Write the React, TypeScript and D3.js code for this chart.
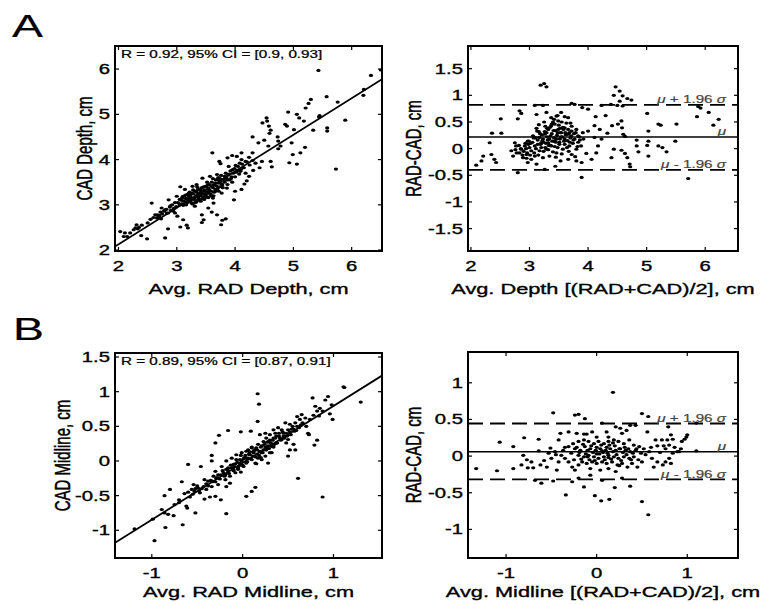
import React from "react";
import * as d3 from "d3";

// the source figure is stretched horizontally, so text gets a scaleX
const FONT = "'Liberation Sans', Arial, Helvetica, sans-serif";
const SX = 1.45;

type Pt = [number, number];

// A: depth, CAD vs RAD
const depthScatter: Pt[] = [
  [5.43,5.97],[6.33,5.86],[6.5,5.98],[6.21,5.55],[6.2,5.42],[5.57,5.39],[5.76,5.27],[5.3,5.33],[5.26,5.24],[5.21,5.14],
  [5.45,4.97],[5.44,4.94],[5.34,4.65],[5.89,4.87],[5.58,4.7],[5.58,4.63],[4.91,5.05],[5.06,5.0],[5.1,4.92],[5.18,4.85],
  [4.54,4.92],[4.55,4.85],[4.47,4.81],[4.58,4.74],[4.61,4.65],[4.86,4.78],[4.89,4.74],[5.01,4.66],[4.59,4.58],[4.73,4.5],
  [4.3,4.5],[4.4,4.37],[4.5,4.43],[4.74,4.41],[4.78,4.3],[4.74,4.24],[4.57,4.3],[4.97,4.37],[5.2,4.27],[5.12,4.15],
  [4.99,4.11],[5.06,3.9],[4.93,3.93],[4.61,3.96],[4.63,3.84],[5.73,3.79],[4.42,3.82],[4.31,3.76],[4.46,3.96],[4.3,4.15],
  [4.11,4.15],[4.03,4.07],[3.95,4.09],[3.87,4.04],[3.73,3.96],[3.61,4.15],[3.75,3.91],[3.89,3.85],[4.18,3.96],[4.24,4.05],
  [4.11,4.0],[4.01,3.87],[4.09,3.74],[4.24,3.63],[4.2,3.53],[4.16,3.46],[4.11,3.34],[3.86,3.37],[3.91,3.56],[3.82,3.63],
  [3.69,3.67],[3.71,3.56],[3.57,3.63],[3.44,3.59],[3.49,3.41],[3.34,3.45],[3.27,3.41],[3.41,3.34],[3.54,3.26],[3.66,3.34],
  [3.77,3.26],[4.0,3.3],[3.98,3.11],[3.62,3.15],[3.63,3.04],[3.36,3.19],[3.23,3.22],[3.14,3.34],[3.06,3.4],[3.0,3.19],
  [3.09,3.15],[3.17,3.07],[3.11,2.99],[3.25,3.04],[3.31,2.97],[3.4,3.11],[2.86,3.11],[2.89,2.98],[2.8,2.89],[2.74,2.93],
  [2.67,2.78],[2.57,3.04],[2.69,2.74],[2.66,2.71],[2.73,2.69],[2.83,2.82],[2.94,2.86],[2.97,2.82],[3.01,2.75],[3.11,2.67],
  [3.43,2.78],[3.46,2.67],[3.54,2.93],[3.6,2.84],[3.69,2.78],[3.78,2.66],[3.84,2.69],[3.76,2.56],[3.17,2.55],[3.19,2.49],
  [3.06,2.51],[2.85,2.47],[2.8,2.27],[3.43,2.61],[2.31,2.56],[2.29,2.49],[2.26,2.45],[2.33,2.47],[2.11,2.38],[2.03,2.41],
  [2.09,2.3],[2.39,2.32],[2.49,2.25],
  [3.02,3.05],[3.05,3.12],[3.08,3.02],[3.1,3.18],[3.12,3.08],[3.15,3.14],[3.16,3.22],[3.18,3.05],[3.2,3.12],[3.21,3.2],
  [3.22,3.28],[3.24,3.1],[3.25,3.16],[3.27,3.02],[3.28,3.24],[3.3,3.12],[3.31,3.3],[3.32,3.18],[3.33,3.06],[3.35,3.22],
  [3.36,3.34],[3.37,3.15],[3.38,3.26],[3.4,3.2],[3.41,3.08],[3.42,3.3],[3.43,3.38],[3.45,3.18],[3.46,3.25],[3.47,3.12],
  [3.48,3.33],[3.5,3.22],[3.51,3.4],[3.52,3.28],[3.54,3.16],[3.55,3.35],[3.56,3.45],[3.58,3.24],[3.59,3.3],[3.6,3.5],
  [3.62,3.38],[3.63,3.2],[3.64,3.44],[3.66,3.3],[3.67,3.55],[3.68,3.42],[3.7,3.36],[3.71,3.6],[3.72,3.48],[3.74,3.4],
  [3.75,3.52],[3.76,3.65],[3.78,3.44],[3.8,3.56],[3.82,3.5],[3.84,3.7],[3.85,3.6],[3.87,3.45],[3.88,3.66],[3.9,3.55],
  [3.92,3.75],[3.94,3.62],[3.95,3.5],[3.97,3.7],[3.99,3.8],[4.0,3.62],[4.02,3.72],[4.05,3.85],[4.07,3.68],[4.1,3.78],
  [4.12,3.9],[4.15,3.82],[4.18,3.7],[4.2,3.95],[4.25,3.88],[4.3,3.98],[4.35,3.92],
  [2.75,2.8],[2.78,2.86],[2.82,2.9],[2.85,2.82],[2.88,2.95],[2.9,2.88],[2.92,3.0],[2.95,2.92],[2.97,3.05],[2.99,2.96],
  [2.6,2.72],[2.63,2.78],[2.7,2.76],[2.72,2.84],[2.55,2.68],[2.5,2.6],[2.4,2.55],[2.35,2.5],[2.2,2.38],[2.15,2.3],
  [3.05,3.0],[3.08,3.1],[3.13,3.2],[3.16,3.0],[3.19,3.15],[3.23,3.08],[3.26,3.26],[3.29,3.14],[3.31,3.05],[3.34,3.28],
  [3.36,3.1],[3.39,3.35],[3.41,3.24],[3.44,3.14],[3.46,3.4],[3.49,3.3],[3.51,3.17],[3.53,3.44],[3.56,3.32],[3.58,3.2],
  [3.61,3.42],[3.64,3.28],[3.66,3.48],[3.69,3.35],[3.72,3.3],[3.74,3.58],[3.77,3.46],[3.79,3.38],[3.83,3.62],[3.86,3.55],
  [3.9,3.68],[3.93,3.58],[3.96,3.78],[4.04,3.76],[4.08,3.92],[3.35,3.4],[3.28,3.33],[3.2,3.25],[3.52,3.5],[3.62,3.58],
];

// A: depth, Bland-Altman
const depthBA: Pt[] = [
  [3.19,1.19],[3.25,1.22],[3.29,1.16],[4.47,1.16],[4.54,1.08],[4.44,1.0],[4.59,0.99],[4.67,0.94],[4.74,0.91],[4.54,0.89],
  [4.5,0.81],[4.59,0.8],[4.23,0.81],[4.39,0.83],[3.72,0.85],[3.77,0.83],[3.9,0.77],[4.0,0.74],[3.23,0.81],[3.09,0.81],
  [2.83,0.71],[2.86,0.66],[2.51,0.56],[2.8,0.56],[5.01,0.66],[5.2,0.46],[5.24,0.44],[5.51,0.46],[5.86,0.6],[5.88,0.79],
  [6.06,0.68],[6.14,0.44],[6.23,0.55],[5.92,0.76],[5.49,0.14],[5.2,0.05],[5.27,0.02],[5.34,-0.06],[5.03,0.33],[5.03,0.14],
  [5.01,0.06],[5.03,-0.14],[4.83,0.16],[4.83,0.05],[4.86,-0.06],[5.71,-0.56],[3.89,-0.54],[2.8,-0.45],[2.09,-0.31],[2.21,-0.14],
  [2.35,-0.11],[2.4,-0.2],[2.43,-0.26],[2.32,0.11],[2.36,0.29],[2.18,-0.23],[2.52,0.29],[4.6,0.27],[4.63,0.23],[4.57,0.52],
  [4.51,0.46],[4.58,0.39],[4.41,0.43],[4.44,-0.01],[4.4,-0.17],[4.57,-0.03],[4.63,-0.09],[4.67,-0.17],[4.71,-0.29],[4.72,-0.34],
  [4.3,0.62],[4.13,0.6],[4.11,0.43],[4.2,0.36],[4.33,0.29],[4.23,0.18],[4.11,0.21],[4.17,0.05],[4.14,-0.08],[4.06,-0.2],
  [3.97,-0.09],[3.89,-0.26],[3.8,-0.23],[3.66,-0.2],[3.53,-0.23],[3.44,-0.33],[3.26,-0.39],[3.12,-0.29],[3.03,-0.2],[2.95,-0.11],
  [2.86,-0.01],[2.75,0.11],[2.69,-0.04],[2.72,-0.14],[2.77,0.05],[2.83,-0.08],[2.92,0.05],[2.97,0.14],[3.06,0.24],[3.13,0.33],
  [3.17,0.21],[3.2,0.11],[3.26,0.27],[3.32,0.36],[3.37,0.43],[3.43,0.46],[3.49,0.36],[3.54,0.3],[3.6,0.39],[3.66,0.27],
  [3.72,0.33],[3.77,0.18],[3.83,0.24],[3.91,0.3],[4.0,0.33],[3.37,0.58],[3.46,0.61],[3.54,0.68],[3.66,0.58],[3.29,0.68],
  [3.12,0.64],[3.49,0.52],[3.23,0.18],[3.32,0.11],[3.43,0.14],[3.51,0.08],[3.6,0.18],[3.37,0.05],[3.29,-0.01],[3.17,-0.04],
  [3.09,0.05],[3.03,-0.04],[3.46,-0.08],[3.57,-0.01],[3.68,0.05],[3.8,-0.01],[3.72,-0.11],[3.34,-0.14],[3.23,-0.17],[3.09,-0.14],
  [2.97,-0.26],[2.89,-0.17],
  [3.0,0.02],[3.05,0.12],[3.08,-0.08],[3.1,0.2],[3.14,0.08],[3.15,-0.12],[3.18,0.28],[3.2,0.02],[3.22,0.15],[3.24,-0.05],
  [3.26,0.32],[3.28,0.1],[3.3,0.22],[3.32,-0.02],[3.34,0.18],[3.35,0.4],[3.36,0.06],[3.38,0.28],[3.4,-0.06],[3.42,0.2],
  [3.44,0.34],[3.45,0.12],[3.47,0.25],[3.48,0.02],[3.5,0.44],[3.52,0.18],[3.53,0.3],[3.55,-0.1],[3.56,0.22],[3.58,0.36],
  [3.6,0.08],[3.62,0.26],[3.63,0.48],[3.65,0.15],[3.67,-0.05],[3.68,0.3],[3.7,0.2],[3.72,0.42],[3.74,0.1],[3.76,0.28],
  [3.78,-0.15],[3.8,0.36],[3.83,0.12],[3.85,0.22],[3.88,0.05],[3.92,0.18],[2.9,-0.05],[2.93,0.1],[2.95,-0.18],[2.98,0.08],
  [2.85,0.0],[2.88,-0.12],[2.82,0.06],[2.78,-0.08],[2.76,-0.02],[3.12,0.38],[3.16,0.45],[3.25,0.5],[3.42,0.55],[3.55,0.5],
  [3.6,0.6],[3.48,0.62],[3.3,0.38],[3.38,0.46],
  [3.02,0.1],[3.07,0.2],[3.11,0.0],[3.14,0.16],[3.19,0.08],[3.21,0.26],[3.24,0.12],[3.27,0.02],[3.29,0.3],[3.31,0.16],
  [3.33,0.06],[3.36,0.24],[3.39,0.14],[3.41,0.34],[3.43,0.04],[3.46,0.18],[3.48,0.3],[3.51,0.12],[3.54,0.22],[3.57,0.4],
  [3.59,0.14],[3.61,0.3],[3.64,0.02],[3.66,0.36],[3.69,0.12],[3.71,0.24],[3.75,0.16],[3.79,0.3],[3.82,0.04],[3.86,0.16],
  [2.94,0.0],[2.96,-0.08],[2.99,0.14],[3.01,-0.12],[3.16,0.32],[3.27,0.42],[3.4,0.5],[3.52,0.38],[3.7,0.48],[3.45,-0.16],
];

// B: midline, CAD vs RAD
const midlineScatter: Pt[] = [
  [0.165,0.97],[0.18,0.82],[1.11,1.07],[1.12,1.06],[1.3,0.85],[0.77,0.91],[0.94,0.93],[0.91,0.88],[0.8,0.79],[0.98,0.81],
  [0.82,0.72],[0.85,0.76],[0.96,0.68],[0.99,0.6],[0.72,0.4],[0.73,0.38],[0.79,0.23],[0.82,0.3],[0.61,-0.25],[0.88,-0.52],
  [0.6,0.64],[0.65,0.67],[0.69,0.62],[0.63,0.6],[0.58,0.55],[0.52,0.53],[0.54,0.46],[0.6,0.5],[0.47,0.55],[0.43,0.45],
  [0.4,0.4],[0.45,0.36],[0.5,0.31],[0.56,0.24],[0.58,0.16],[0.52,0.16],[0.5,0.07],[0.34,0.33],[0.28,0.28],[0.32,0.21],
  [0.26,0.16],[0.21,0.12],[0.32,0.12],[0.28,-0.03],[0.25,0.4],[0.19,0.38],[0.165,0.57],[0.09,0.43],[-0.02,0.42],[-0.16,0.44],
  [-0.26,0.37],[-0.3,0.26],[-0.34,0.08],[-0.34,0.0],[-0.6,-0.05],[-0.46,-0.08],[-0.54,-0.34],[-0.67,-0.3],[-0.53,-0.44],[-0.86,-0.5],
  [-0.8,-0.41],[-0.89,-0.7],[-0.86,-0.75],[-0.82,-0.77],[-0.76,-0.79],[-0.85,-0.96],[-0.66,-0.92],[-0.62,-0.65],[-0.61,-0.68],[-0.52,-0.75],
  [-0.97,-1.15],[-0.99,-0.84],[-1.19,-0.98],[-0.18,-0.76],[0.04,-0.51],[0.14,-0.38],[0.1,-0.44],[-0.24,-0.56],[-0.3,-0.51],[-0.36,-0.52],
  [-0.42,-0.55],[-0.47,-0.46],[-0.4,-0.41],[-0.34,-0.37],[-0.27,-0.34],[-0.19,-0.27],[-0.14,-0.22],[-0.08,-0.17],[-0.05,-0.1],[0.01,-0.08],
  [0.04,-0.03],[-0.03,-0.03],[-0.1,-0.05],[-0.16,-0.1],[-0.21,-0.17],[-0.29,-0.25],[-0.38,-0.29],[-0.43,-0.37],[-0.49,-0.39],[-0.3,-0.15],
  [-0.23,-0.08],[-0.18,0.0],[-0.12,0.04],[-0.07,0.09],[-0.01,0.12],[0.04,0.14],[0.08,0.09],[0.12,0.14],[0.15,0.19],[0.1,0.19],
  [0.04,0.04],[0.1,0.02],[0.14,-0.03],[0.17,0.24],[0.23,0.28],[0.26,0.33],[0.3,0.38],[0.36,0.4],[0.39,0.48],[0.34,0.45],
  [0.43,0.31],[0.48,0.26],[0.37,0.26],[0.21,0.02],[0.25,0.07],[0.17,0.04],[-0.07,0.02],[-0.1,-0.13],[-0.14,-0.32],[-0.18,-0.37],
  [-0.02,-0.16],[-0.42,-0.27],[-0.56,-0.41],[-0.64,-0.47],[-0.7,-0.56],
  [-0.4,-0.33],[-0.35,-0.28],[-0.32,-0.22],[-0.3,-0.3],[-0.27,-0.2],[-0.25,-0.26],[-0.22,-0.14],[-0.2,-0.22],[-0.18,-0.12],[-0.15,-0.18],
  [-0.13,-0.06],[-0.1,-0.14],[-0.08,-0.04],[-0.05,-0.12],[-0.03,0.02],[0.0,-0.06],[0.02,0.05],[0.05,-0.01],[0.07,0.1],[0.09,0.03],
  [0.12,0.12],[0.14,0.06],[0.16,0.16],[0.18,0.08],[0.2,0.2],[0.22,0.12],[0.24,0.24],[0.26,0.17],[0.28,0.22],[0.3,0.3],
  [0.32,0.24],[0.34,0.2],[0.36,0.33],[0.38,0.26],[0.4,0.36],[0.42,0.3],[0.44,0.42],[0.46,0.33],[0.48,0.4],[0.5,0.45],
  [0.53,0.38],[0.55,0.5],[0.57,0.43],[0.62,0.48],[0.66,0.55],[0.7,0.5],[0.74,0.6],[0.78,0.66],[0.84,0.65],[0.88,0.72],
  [-0.45,-0.4],[-0.5,-0.36],[-0.55,-0.48],[-0.6,-0.45],[-0.7,-0.6],[-0.75,-0.63],[0.1,0.2],[0.15,-0.04],[-0.02,0.08],[0.3,0.12],
  [-0.38,-0.36],[-0.33,-0.3],[-0.28,-0.24],[-0.24,-0.2],[-0.19,-0.2],[-0.16,-0.14],[-0.12,-0.1],[-0.09,-0.08],[-0.06,-0.02],[-0.04,-0.07],
  [-0.01,0.0],[0.01,0.03],[0.03,0.08],[0.06,0.04],[0.08,0.13],[0.11,0.07],[0.13,0.16],[0.16,0.1],[0.19,0.14],[0.21,0.22],
  [0.23,0.16],[0.25,0.2],[0.27,0.27],[0.29,0.18],[0.31,0.26],[0.33,0.3],[0.35,0.24],[0.37,0.36],[0.41,0.33],[0.45,0.4],
  [0.49,0.36],[0.52,0.42],[0.56,0.46],[0.59,0.44],[0.64,0.52],[-0.48,-0.43],[-0.52,-0.4],[-0.58,-0.52],[0.06,0.16],[0.2,0.05],
];

// B: midline, Bland-Altman
const midlineBA: Pt[] = [
  [0.18,0.87],[-0.48,0.59],[-0.24,0.56],[-0.2,0.57],[-0.13,0.51],[0.5,0.58],[0.57,0.54],[-1.07,0.19],[-0.92,0.13],[-0.8,0.25],
  [-0.64,0.23],[-1.33,-0.17],[-1.1,-0.2],[-0.92,-0.17],[-0.83,-0.12],[-0.76,-0.16],[-0.7,-0.16],[-0.77,-0.05],[-0.81,0.01],[-0.72,-0.08],
  [-0.64,0.07],[-0.68,-0.33],[-0.61,-0.37],[-0.55,-0.15],[-0.48,-0.34],[-0.44,-0.19],[-0.34,-0.53],[-0.27,-0.35],[-0.2,-0.3],[-0.14,-0.42],
  [-0.02,-0.54],[0.05,-0.61],[0.14,-0.59],[0.2,-0.43],[0.28,-0.3],[0.37,-0.41],[0.5,-0.62],[0.57,-0.8],[0.06,-0.33],[-0.07,-0.26],
  [0.65,0.22],[0.72,0.22],[0.78,0.22],[0.84,0.23],[0.67,0.14],[0.74,0.14],[0.8,0.15],[0.99,0.26],[0.97,0.23],[0.94,0.2],
  [1.0,0.29],[0.79,0.4],[0.82,0.29],[0.89,0.06],[0.91,0.06],[0.84,0.04],[0.8,-0.03],[0.76,-0.08],[0.73,-0.12],[0.63,-0.15],
  [0.67,-0.08],[0.61,-0.03],[0.82,-0.1],[1.1,0.07],[1.1,0.45],[0.56,0.33],[0.43,0.42],[0.37,0.42],[0.33,0.35],[0.28,0.31],
  [0.21,0.4],[0.11,0.33],[0.06,0.45],[-0.05,0.33],[-0.14,0.3],[-0.22,0.31],[-0.31,0.33],[-0.4,0.31],[-0.42,0.22],[-0.51,0.11],
  [-0.46,0.06],[-0.39,0.01],[-0.35,-0.03],[-0.31,-0.08],[-0.27,-0.15],[-0.24,-0.19],[-0.37,0.08],[-0.31,0.13],[-0.26,0.17],[-0.2,0.2],
  [-0.14,0.22],[-0.09,0.2],[-0.03,0.17],[0.02,0.2],[0.08,0.17],[0.13,0.2],[0.19,0.22],[0.24,0.2],[0.3,0.17],[0.36,0.22],
  [0.41,0.15],[0.47,0.13],[0.52,0.1],[0.58,0.06],[-0.24,0.1],[-0.18,0.08],[-0.13,0.13],[-0.07,0.1],[-0.01,0.08],[0.04,0.1],
  [0.1,0.08],[0.15,0.1],[0.21,0.08],[0.26,0.1],[0.32,0.08],[0.37,0.06],[0.43,0.08],[0.49,0.04],[-0.2,0.01],[-0.14,-0.01],
  [-0.09,0.01],[-0.03,-0.01],[0.02,-0.03],[0.08,-0.01],[0.13,0.01],[0.19,-0.01],[0.24,-0.03],[0.3,-0.01],[0.36,-0.03],[0.41,-0.01],
  [-0.16,-0.08],[-0.11,-0.1],[-0.05,-0.08],[0.0,-0.1],[0.06,-0.08],[0.11,-0.1],[0.17,-0.08],[0.23,-0.12],[0.28,-0.1],[0.34,-0.15],
  [0.39,-0.1],[0.45,-0.15],[0.5,-0.08],[-0.07,-0.17],[0.04,-0.19],[0.13,-0.17],[0.21,-0.21],[-0.2,-0.12],[0.26,0.38],[0.13,0.26],
  [0.0,0.26],[-0.11,0.3],[-0.42,-0.08],[-0.5,-0.03],[-0.53,0.04],
  [-0.28,0.04],[-0.25,-0.05],[-0.22,0.12],[-0.19,0.05],[-0.17,-0.04],[-0.15,0.16],[-0.12,0.03],[-0.1,0.08],[-0.08,-0.05],[-0.06,0.14],
  [-0.04,0.05],[-0.02,-0.06],[0.0,0.12],[0.03,0.03],[0.05,0.15],[0.07,0.05],[0.09,-0.05],[0.11,0.12],[0.12,0.04],[0.14,0.15],
  [0.16,-0.04],[0.18,0.06],[0.2,0.14],[0.22,0.02],[0.25,0.1],[0.27,-0.06],[0.29,0.05],[0.31,0.12],[0.33,0.02],[0.35,0.1],
  [0.38,-0.05],[0.4,0.04],[0.44,0.1],[0.46,-0.05],[0.54,0.02],[0.6,0.12],[0.7,0.05],[0.76,0.1],[0.86,0.12],[0.93,0.1],
  [-0.35,0.12],[-0.45,0.02],[-0.58,-0.06],[-0.62,-0.12],[0.0,0.03],[0.06,0.07],[0.13,-0.02],[0.18,0.18],[-0.1,-0.01],[0.25,-0.13],
];

// fitted line and agreement limits
const depthFit = { slope: 0.807, intercept: 0.513 };
const midlineFit = { slope: 0.821, intercept: -0.027 };
const depthLimits = { mean: 0.219, upper: 0.82, lower: -0.4 };
const midlineLimits = { mean: 0.059, upper: 0.445, lower: -0.318 };

const depthTicks = [2, 3, 4, 5, 6];
const diffTicksA = [-1.5, -1, -0.5, 0, 0.5, 1, 1.5];
const midlineXTicks = [-1, 0, 1];
const midlineYTicks = [-1, -0.5, 0, 0.5, 1, 1.5];
const diffTicksB = [-1, -0.5, 0, 0.5, 1];

type Box = { x: number; y: number; w: number; h: number };

// blurry source text looks heavier, a hairline stroke approximates that
const Txt = ({ x, y, size, anchor = "start", rotate = false, fill = "#000", weight = 0.35, children }: any) => (
  <text
    transform={`translate(${x},${y}) scale(${SX},1)${rotate ? " rotate(-90)" : ""}`}
    fontSize={size}
    fontFamily={FONT}
    textAnchor={anchor}
    fill={fill}
    stroke={fill}
    strokeWidth={weight}
  >
    {children}
  </text>
);

function Panel(props: {
  id: string;
  box: Box;
  xDomain: [number, number];
  yDomain: [number, number];
  xTicks: number[];
  yTicks: number[];
  points: Pt[];
  xLabel: string;
  yLabel: string;
  yLabelX: number;
  titleDy: number;
  fit?: { slope: number; intercept: number };
  corr?: string;
  limits?: { mean: number; upper: number; lower: number };
}) {
  const { id, box, points, fit, limits } = props;
  const x = d3.scaleLinear().domain(props.xDomain).range([box.x, box.x + box.w]);
  const y = d3.scaleLinear().domain(props.yDomain).range([box.y + box.h, box.y]);
  const right = box.x + box.w;
  const bottom = box.y + box.h;
  const tl = 4;
  const line = d3.line<number>().x((d) => x(d)).y((d) => y(fit ? fit.intercept + fit.slope * d : 0));
  const gi = { fontStyle: "italic" } as any;

  return (
    <g>
      <defs>
        <clipPath id={id}>
          <rect x={box.x} y={box.y} width={box.w} height={box.h} />
        </clipPath>
      </defs>
      <g clipPath={`url(#${id})`}>
        {points.map((p, i) => (
          <ellipse key={i} cx={x(p[0])} cy={y(p[1])} rx={2.1} ry={1.6} fill="#000" />
        ))}
        {fit && <path d={line(props.xDomain) || ""} stroke="#000" strokeWidth={1.8} fill="none" />}
        {limits && (
          <g>
            <line x1={box.x} x2={right} y1={y(limits.mean)} y2={y(limits.mean)} stroke="#000" strokeWidth={1.6} />
            {[limits.upper, limits.lower].map((v) => (
              <line key={v} x1={box.x} x2={right} y1={y(v)} y2={y(v)} stroke="#000" strokeWidth={1.8} strokeDasharray="15,7" />
            ))}
          </g>
        )}
      </g>
      {limits && (
        <g>
          <Txt x={right - 12} y={y(limits.upper) - 1.5} size={10.5} anchor="end" fill="#444" weight={0.2}>
            <tspan style={gi}>μ</tspan> + 1.96 <tspan style={gi}>σ</tspan>
          </Txt>
          <Txt x={right - 12} y={y(limits.mean) - 1.5} size={10.5} anchor="end" fill="#444" weight={0.2}>
            <tspan style={gi}>μ</tspan>
          </Txt>
          <Txt x={right - 12} y={y(limits.lower) - 1.5} size={10.5} anchor="end" fill="#444" weight={0.2}>
            <tspan style={gi}>μ</tspan> - 1.96 <tspan style={gi}>σ</tspan>
          </Txt>
        </g>
      )}
      {props.corr && (
        <Txt x={box.x + 6} y={box.y + 11.5} size={10.5} weight={0.25}>
          {props.corr}
        </Txt>
      )}
      <rect x={box.x} y={box.y} width={box.w} height={box.h} fill="none" stroke="#000" strokeWidth={2} />
      {props.xTicks.map((t) => (
        <g key={"x" + t}>
          <line x1={x(t)} x2={x(t)} y1={bottom} y2={bottom - tl} stroke="#000" strokeWidth={1.2} />
          <line x1={x(t)} x2={x(t)} y1={box.y} y2={box.y + tl} stroke="#000" strokeWidth={1.2} />
          <Txt x={x(t)} y={bottom + 20} size={14} anchor="middle">
            {String(t)}
          </Txt>
        </g>
      ))}
      {props.yTicks.map((t) => (
        <g key={"y" + t}>
          <line x1={box.x} x2={box.x + tl} y1={y(t)} y2={y(t)} stroke="#000" strokeWidth={1.2} />
          <line x1={right} x2={right - tl} y1={y(t)} y2={y(t)} stroke="#000" strokeWidth={1.2} />
          <Txt x={box.x - 5} y={y(t) + 5} size={14} anchor="end">
            {String(t)}
          </Txt>
        </g>
      ))}
      <Txt x={box.x + box.w / 2} y={bottom + props.titleDy} size={15} anchor="middle">
        {props.xLabel}
      </Txt>
      <Txt x={props.yLabelX} y={box.y + box.h / 2} size={15} anchor="middle" rotate>
        {props.yLabel}
      </Txt>
    </g>
  );
}

export default function App() {
  return (
    <svg
      width={762}
      height={605}
      style={{ position: "absolute", left: 0, top: 0, background: "#fff" }}
    >
      <rect width={762} height={605} fill="#fff" />
      <Txt x={12} y={37} size={32} weight={0.2}>A</Txt>
      <Txt x={13} y={340} size={32} weight={0.2}>B</Txt>
      <Panel
        id="cA1"
        box={{ x: 115, y: 46, w: 267, h: 205 }}
        xDomain={[1.94, 6.52]}
        yDomain={[1.98, 6.51]}
        xTicks={depthTicks}
        yTicks={depthTicks}
        points={depthScatter}
        xLabel="Avg. RAD Depth, cm"
        yLabel="CAD Depth, cm"
        yLabelX={92}
        titleDy={43}
        fit={depthFit}
        corr="R = 0.92, 95% CI = [0.9, 0.93]"
      />
      <Panel
        id="cA2"
        box={{ x: 468, y: 46, w: 270, h: 205 }}
        xDomain={[1.95, 6.56]}
        yDomain={[-1.92, 1.925]}
        xTicks={depthTicks}
        yTicks={diffTicksA}
        points={depthBA}
        xLabel="Avg. Depth [(RAD+CAD)/2], cm"
        yLabel="RAD-CAD, cm"
        yLabelX={421}
        titleDy={43}
        limits={depthLimits}
      />
      <Panel
        id="cB1"
        box={{ x: 115, y: 353, w: 267, h: 205 }}
        xDomain={[-1.405, 1.534]}
        yDomain={[-1.4, 1.558]}
        xTicks={midlineXTicks}
        yTicks={midlineYTicks}
        points={midlineScatter}
        xLabel="Avg. RAD Midline, cm"
        yLabel="CAD Midline, cm"
        yLabelX={70}
        titleDy={39}
        fit={midlineFit}
        corr="R = 0.89, 95% CI = [0.87, 0.91]"
      />
      <Panel
        id="cB2"
        box={{ x: 468, y: 352, w: 270, h: 206 }}
        xDomain={[-1.42, 1.56]}
        yDomain={[-1.39, 1.42]}
        xTicks={midlineXTicks}
        yTicks={diffTicksB}
        points={midlineBA}
        xLabel="Avg. Midline [(RAD+CAD)/2], cm"
        yLabel="RAD-CAD, cm"
        yLabelX={421}
        titleDy={39}
        limits={midlineLimits}
      />
    </svg>
  );
}
